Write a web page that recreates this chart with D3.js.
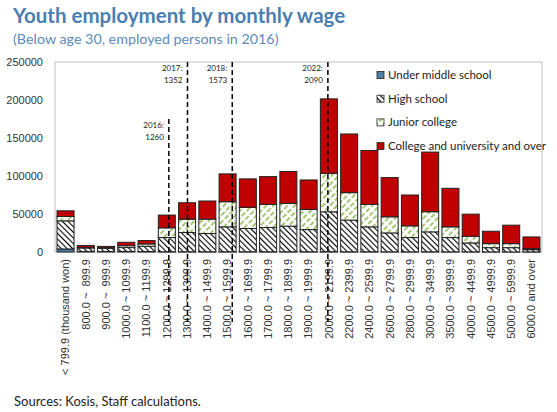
<!DOCTYPE html>
<html lang="en">
<head>
    <meta charset="UTF-8">
    <script src="https://d3js.org/d3.v7.min.js"></script>
    <title>Youth employment by monthly wage</title>
    <style>
        body { margin: 0; background: white; font-family: Lato, "Noto Sans", sans-serif; }
        .ytick text { font-size: 11px; fill: #333; }
        .xtick text { font-size: 11px; fill: #333; }
    </style>
</head>
<body>
<script>
    // wage bins (thousand won)
    var categories = ["< 799.9 (thousand won)", "800.0 ~  899.9", "900.0 ~  999.9", "1000.0 ~ 1099.9",
        "1100.0 ~ 1199.9", "1200.0 ~ 1299.9", "1300.0 ~ 1399.9", "1400.0 ~ 1499.9", "1500.0 ~ 1599.9",
        "1600.0 ~ 1699.9", "1700.0 ~ 1799.9", "1800.0 ~ 1899.9", "1900.0 ~ 1999.9", "2000.0 ~ 2199.9",
        "2200.0 ~ 2399.9", "2400.0 ~ 2599.9", "2600.0 ~ 2799.9", "2800.0 ~ 2999.9", "3000.0 ~ 3499.9",
        "3500.0 ~ 3999.9", "4000.0 ~ 4499.9", "4500.0 ~ 4999.9", "5000.0 ~ 5999.9", "6000.0 and over"];
    var underMiddle = [4000, 800, 700, 800, 600, 300, 300, 300, 300, 300, 300, 300, 300, 400, 300, 300, 200, 200, 300, 200, 200, 100, 100, 100];
    var highSchool = [37000, 4500, 4200, 5000, 7000, 18700, 25300, 24000, 32800, 30600, 31900, 33700, 29200, 52500, 41600, 32800, 24900, 18800, 26200, 18800, 11700, 5600, 5600, 3000];
    var juniorCollege = [5700, 800, 700, 2500, 3000, 12800, 17600, 19000, 33100, 27800, 30400, 30000, 26500, 50700, 36200, 29500, 21200, 15400, 26500, 14100, 8800, 5300, 5300, 1300];
    var college = [7500, 2500, 1800, 4500, 4500, 16800, 21600, 23800, 36600, 37500, 36600, 41900, 38800, 97900, 77200, 71000, 51600, 40600, 78500, 50700, 29100, 16300, 24300, 15400];
    var seriesNames = ["Under middle school", "High school", "Junior college", "College and university and over"];
    var yTicks = [0, 50000, 100000, 150000, 200000, 250000];

    // minimum wage markers
    var minWageYears = ["2016", "2017", "2018", "2022"];
    var minWages = [1260, 1352, 1573, 2090];
    var minWageTop = [175000, 250000, 250000, 250000];

    var canvasWidth = 557, canvasHeight = 412;
    var margin = {left: 55, top: 62, right: 15, bottom: 160};
    var width = canvasWidth - margin.left - margin.right;
    var height = 252 - margin.top;

    var svg = d3.select("body").append("svg")
        .attr("width", canvasWidth)
        .attr("height", canvasHeight);

    var defs = svg.append("defs");
    var hs = defs.append("pattern").attr("id", "hatchHigh")
        .attr("patternUnits", "userSpaceOnUse").attr("width", 4).attr("height", 4)
        .attr("patternTransform", "rotate(-45)");
    hs.append("rect").attr("width", 4).attr("height", 4).attr("fill", "white");
    hs.append("line").attr("x1", 0).attr("y1", 0).attr("x2", 0).attr("y2", 4)
        .attr("stroke", "black").attr("stroke-width", 2.2);
    var jc = defs.append("pattern").attr("id", "hatchJunior")
        .attr("patternUnits", "userSpaceOnUse").attr("width", 5).attr("height", 7)
        .attr("patternTransform", "rotate(45)");
    jc.append("rect").attr("width", 5).attr("height", 7).attr("fill", "white");
    jc.append("line").attr("x1", 1).attr("y1", 0).attr("x2", 1).attr("y2", 7)
        .attr("stroke", "#8fba55").attr("stroke-width", 1.6).attr("stroke-dasharray", "5,2");

    var fills = ["#4e81a8", "url(#hatchHigh)", "url(#hatchJunior)", "#c00000"];

    // titles
    svg.append("text").attr("x", 13).attr("y", 23)
        .attr("font-size", "20.5px").attr("font-weight", "bold").attr("fill", "#4a7eb0")
        .text("Youth employment by monthly wage");
    svg.append("text").attr("x", 13).attr("y", 44)
        .attr("font-size", "14.3px").attr("fill", "#5a8bbd")
        .text("(Below age 30, employed persons in 2016)");
    svg.append("text").attr("x", 14).attr("y", 406)
        .attr("font-size", "13px").attr("fill", "#222")
        .text("Sources: Kosis, Staff calculations.");

    var xScale = d3.scaleBand().domain(categories).range([0, width])
        .paddingInner(0.16).paddingOuter(0.1);
    var yScale = d3.scaleLinear().domain([0, 250000]).range([height, 0]);

    var g = svg.append("g")
        .attr("transform", "translate(" + margin.left + "," + margin.top + ")");

    g.append("rect").attr("x", 0).attr("y", 0).attr("width", width).attr("height", height)
        .attr("fill", "none").attr("stroke", "#bfbfbf");

    var table = categories.map(function (c, i) {
        return {cat: c, u: underMiddle[i], h: highSchool[i], j: juniorCollege[i], c: college[i]};
    });
    var stack = d3.stack().keys(["u", "h", "j", "c"])(table);

    g.selectAll(".series").data(stack).enter().append("g")
        .attr("class", "series")
        .attr("fill", function (d, i) { return fills[i]; })
        .selectAll("rect").data(function (d) { return d; }).enter().append("rect")
        .attr("x", function (d) { return xScale(d.data.cat); })
        .attr("y", function (d) { return yScale(d[1]); })
        .attr("width", xScale.bandwidth())
        .attr("height", function (d) { return yScale(d[0]) - yScale(d[1]); })
        .attr("stroke", "#222").attr("stroke-width", 1);

    // y axis
    var yAxis = g.append("g").attr("class", "ytick")
        .call(d3.axisLeft(yScale).tickValues(yTicks).tickSize(0).tickPadding(12)
            .tickFormat(d3.format("d")));
    yAxis.select(".domain").remove();

    // x axis
    var xAxis = g.append("g").attr("class", "xtick")
        .attr("transform", "translate(0," + height + ")")
        .call(d3.axisBottom(xScale).tickSize(0));
    xAxis.select(".domain").remove();
    xAxis.selectAll("text")
        .attr("transform", "rotate(-90)")
        .attr("text-anchor", "end")
        .attr("x", -7).attr("y", 0).attr("dy", "0.35em")
        .style("white-space", "pre");

    // minimum wage lines: placed inside their bin by wage
    function binOf(w) {
        for (var i = 0; i < categories.length; i++) {
            var m = categories[i].match(/([\d.]+)\s*~\s*([\d.]+)/);
            if (m && w >= +m[1] && w <= +m[2]) return {i: i, lo: +m[1], hi: +m[2] + 0.1};
        }
    }
    minWages.forEach(function (w, k) {
        var b = binOf(w);
        var x = xScale(categories[b.i]) - xScale.step() * xScale.paddingInner() / 2
            + xScale.step() * (w - b.lo) / (b.hi - b.lo);
        var top = yScale(minWageTop[k]);
        g.append("line").attr("x1", x).attr("x2", x).attr("y1", top).attr("y2", height + 70)
            .attr("stroke", "black").attr("stroke-width", 1.5).attr("stroke-dasharray", "5,3");
        var t = g.append("text").attr("x", x - 5).attr("y", top + 9)
            .attr("text-anchor", "end").attr("font-size", "8px").attr("fill", "#222");
        t.append("tspan").attr("x", x - 5).text(minWageYears[k] + ":");
        t.append("tspan").attr("x", x - 5).attr("dy", 12).text(w);
    });

    // legend
    var legend = g.append("g").attr("transform", "translate(322, 13)");
    seriesNames.forEach(function (s, i) {
        var row = legend.append("g").attr("transform", "translate(0," + (i * 23.7) + ")");
        row.append("rect").attr("x", 0).attr("y", -3.5).attr("width", 7).attr("height", 7)
            .attr("fill", fills[i]).attr("stroke", "#222").attr("stroke-width", 0.8);
        row.append("text").attr("x", 11).attr("y", 0).attr("dy", "0.35em")
            .attr("font-size", "11.5px").attr("fill", "#222").text(s);
    });
</script>
</body>
</html>
